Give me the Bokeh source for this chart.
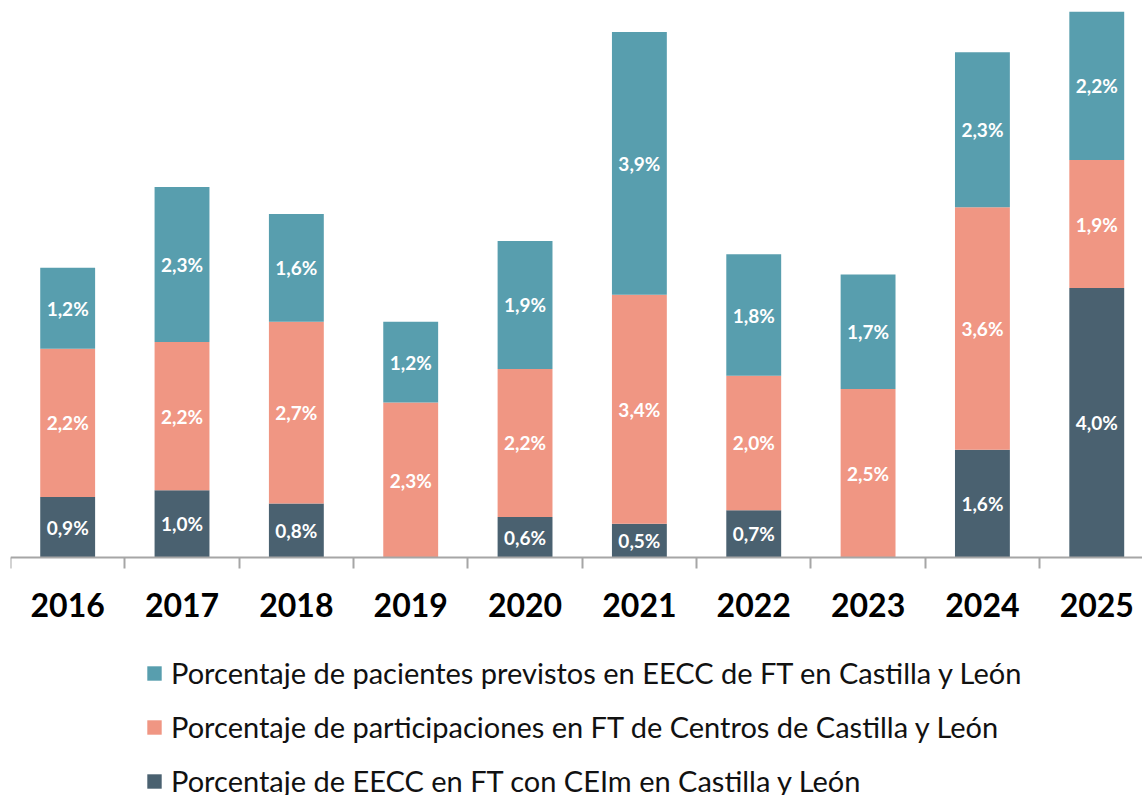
from bokeh.plotting import figure
from bokeh.models import ColumnDataSource, Range1d, FixedTicker, Legend, LegendItem
from bokeh.core.properties import value
from bokeh.embed import file_html
from bokeh.resources import INLINE

years = [2016, 2017, 2018, 2019, 2020, 2021, 2022, 2023, 2024, 2025]
ceim = [0.9, 1.0, 0.8, 0.0, 0.6, 0.5, 0.7, 0.0, 1.6, 4.0]
participaciones = [2.2, 2.2, 2.7, 2.3, 2.2, 3.4, 2.0, 2.5, 3.6, 1.9]
pacientes = [1.2, 2.3, 1.6, 1.2, 1.9, 3.9, 1.8, 1.7, 2.3, 2.2]

names = [
    "Porcentaje de EECC en FT con CEIm en Castilla y León",
    "Porcentaje de participaciones en FT de Centros de Castilla y León",
    "Porcentaje de pacientes previstos en EECC de FT en Castilla y León",
]
colors = ["#4a6170", "#f09683", "#589eae"]

src = ColumnDataSource(dict(year=years, ceim=ceim, part=participaciones, pac=pacientes))

# frame extends below the x axis so that the legend can sit inside it
p = figure(frame_width=1132, frame_height=787,
           x_range=Range1d(2015.5, 2025.4), y_range=Range1d(-3.533, 8.15),
           output_backend="svg", toolbar_location=None, y_axis_location=None,
           min_border_left=10, min_border_right=0, min_border_top=8, min_border_bottom=0)

rs = p.vbar_stack(["ceim", "part", "pac"], x="year", width=0.48, color=colors,
                  line_color=None, source=src)

# labels
lx, ly, lt = [], [], []
for i, yr in enumerate(years):
    base = 0.0
    for v in (ceim[i], participaciones[i], pacientes[i]):
        if v > 0:
            lx.append(yr)
            ly.append(base + v / 2)
            lt.append(f"{v:.1f}".replace(".", ",") + "%")
        base += v
lab = ColumnDataSource(dict(x=lx, y=ly, t=lt))
p.text(x="x", y="y", text="t", source=lab, text_align="center", text_baseline="middle",
       text_color="white", text_font=value("Lato"), text_font_style="bold",
       text_font_size="19px")

ax = p.xaxis[0]
ax.fixed_location = 0
ax.ticker = FixedTicker(ticks=years, minor_ticks=[y - 0.5 for y in years] + [years[-1] + 0.5])
ax.major_tick_line_color = None
ax.major_tick_out = 0
ax.major_tick_in = 0
ax.minor_tick_out = 11
ax.minor_tick_in = 0
ax.minor_tick_line_color = "#a6a6a6"
ax.minor_tick_line_width = 2
ax.axis_line_color = "#a6a6a6"
ax.axis_line_width = 2
ax.major_label_text_font = "Lato"
ax.major_label_text_font_style = "bold"
ax.major_label_text_font_size = "32px"
ax.major_label_text_color = "black"
ax.major_label_standoff = 24

p.grid.visible = False
p.outline_line_color = None

legend = Legend(items=[LegendItem(label=names[2], renderers=[rs[2]]),
                       LegendItem(label=names[1], renderers=[rs[1]]),
                       LegendItem(label=names[0], renderers=[rs[0]])],
                orientation="vertical", location=(135, -3.5))
legend.label_text_font = "Lato"
legend.label_text_font_size = "29px"
legend.label_text_color = "#111111"
legend.glyph_width = 18
legend.glyph_height = 18
legend.label_height = 36
legend.label_standoff = 8
legend.spacing = 18
legend.padding = 0
legend.margin = 0
legend.border_line_color = None
legend.background_fill_alpha = 0
p.add_layout(legend, "center")

open("out.html", "w").write(file_html(p, INLINE))
